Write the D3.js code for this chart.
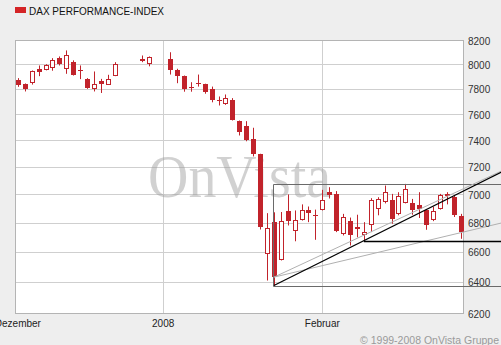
<!DOCTYPE html>
<html><head><meta charset="utf-8">
<script src="https://cdn.jsdelivr.net/npm/d3@7"></script>
<style>html,body{margin:0;padding:0;background:#eeeeee;}svg{display:block;}</style>
</head><body>
<svg id="c" width="501" height="345"></svg>
<script>
// ---- data ----
const seriesName = "DAX PERFORMANCE-INDEX";
const dates = ["2007-12-03","2007-12-04","2007-12-05","2007-12-06","2007-12-07",
"2007-12-10","2007-12-11","2007-12-12","2007-12-13","2007-12-14",
"2007-12-17","2007-12-18","2007-12-19","2007-12-20","2007-12-21",
"2007-12-27","2007-12-28",
"2008-01-02","2008-01-03","2008-01-04",
"2008-01-07","2008-01-08","2008-01-09","2008-01-10","2008-01-11",
"2008-01-14","2008-01-15","2008-01-16","2008-01-17","2008-01-18",
"2008-01-21","2008-01-22","2008-01-23","2008-01-24","2008-01-25",
"2008-01-28","2008-01-29","2008-01-30","2008-01-31","2008-02-01",
"2008-02-04","2008-02-05","2008-02-06","2008-02-07","2008-02-08",
"2008-02-11","2008-02-12","2008-02-13","2008-02-14","2008-02-15",
"2008-02-18","2008-02-19","2008-02-20","2008-02-21","2008-02-22",
"2008-02-25","2008-02-26","2008-02-27","2008-02-28","2008-02-29"];
const open  = [7873,7839,7849,7966,7960, 7971,8053,7966,8021,7955, 7884,7804,7866,7837,7911, 8040,8007,
  8047,7953,7911, 7822,7847,7839,7800,7716, 7685,7717,7550,7509,7413, 7297,6590,6808,6550,6883,
  6745,6826,6896,6855,6895, 7020,7008,6727,6819,6777, 6722,6791,6902,6953,6965, 6866,6946,6940,6926,6896,
  6824,6902,7008,6984,6851];
const high  = [7890,7847,7952,7993,8003, 8053,8067,8117,8035,7993, 7890,7944,7884,7917,8020, 8075,8067,
  8102,7966,7911, 7857,7919,7845,7822,7743, 7759,7730,7555,7550,7499, 7302,6871,6877,6879,7004,
  6890,6933,6918,6896,7037, 7056,7028,6866,6840,6860, 6808,6977,6984,7068,7008, 7020,7080,6972,7020,6899,
  6917,7008,7020,6993,6866];
const low   = [7820,7783,7838,7906,7953, 7950,7993,7925,7911,7882, 7804,7783,7771,7837,7906, 8020,7986,
  7919,7849,7781, 7781,7822,7765,7697,7672, 7677,7555,7440,7396,7282, 6757,6413,6380,6546,6785,
  6676,6819,6808,6686,6890, 6975,6739,6716,6647,6703, 6680,6739,6856,6940,6797, 6856,6940,6860,6837,6755,
  6815,6896,6933,6844,6693];
const close = [7834,7804,7946,7939,7993, 8035,8007,8075,7919,7951, 7812,7845,7839,7879,8007, 8045,8062,
  7953,7911,7800, 7817,7843,7781,7714,7712, 7733,7560,7465,7407,7302, 6777,6769,6435,6819,6815,
  6824,6896,6871,6851,6965, 7000,6750,6847,6716,6760, 6743,6965,6972,7025,6831, 6993,7040,6896,6903,6791,
  6889,7000,6996,6856,6743];

const yTicks = [6200,6400,6600,6800,7000,7200,7400,7600,7800,8000,8200];
const xTickDates = ["2007-12-03","2008-01-01","2008-02-01"];
const xTickLabels = ["Dezember","2008","Februar"];

// annotations (drawn from data anchors)
const boxStart = "2008-01-23", boxHigh = 7080, boxLow = 6380;
const trendA = ["2008-01-23", 6380], trendB = ["2008-02-11", 6680];
const supportStart = "2008-02-11", supportLevel = 6680;
const fanSteepA = ["2008-01-23", 6435], fanSteepB = ["2008-02-29", 7036];
const fanFlatA  = ["2008-01-23", 6435], fanFlatB  = ["2008-02-29", 6735];

// ---- helpers ----
const parse = d3.utcParse("%Y-%m-%d");
const base = Date.UTC(2008,0,1);
function wd(s){
  const t = parse(s);
  const isWd = d => d.getUTCDay()%6!==0;
  if (+t >= base) return d3.utcDay.range(new Date(base), t).filter(isWd).length;
  return -d3.utcDay.range(t, new Date(base)).filter(isWd).length;
}

const W = 501, H = 345;
const L = 15.5, R = 463.5, T = 40.5, B = 313.5;
const x = d3.scaleLinear().domain([-21.34, 43.4]).range([L, R]);
const y = d3.scaleLog().domain([6200, 8200]).range([B, T]);
const svg = d3.select("#c");
const red = "#c1232b";
const px = v => Math.round(v) + 0.5;

// plot bg
svg.append("rect").attr("x",L).attr("y",T).attr("width",R-L).attr("height",B-T).attr("fill","#fff");

// grid
svg.append("g").selectAll("line").data(yTicks.slice(1,-1)).join("line")
  .attr("x1",L).attr("x2",R).attr("y1",d=>px(y(d)-0.5)).attr("y2",d=>px(y(d)-0.5))
  .attr("stroke","#cfcfcf").attr("stroke-width",1);
svg.append("g").selectAll("line").data(xTickDates.slice(1)).join("line")
  .attr("x1",d=>px(x(wd(d))-0.5)).attr("x2",d=>px(x(wd(d))-0.5)).attr("y1",T).attr("y2",B)
  .attr("stroke","#cfcfcf");

// watermark
svg.append("text").attr("x",148).attr("y",197).text("OnVista")
  .attr("font-family","Liberation Serif, Times New Roman, serif").attr("font-size",62)
  .attr("textLength",183).attr("lengthAdjust","spacingAndGlyphs")
  .attr("fill","#9a9a9a").attr("fill-opacity",0.45);

// border
svg.append("rect").attr("x",L).attr("y",T).attr("width",R-L).attr("height",B-T)
  .attr("fill","none").attr("stroke","#b4b4b4");

// candles
const candles = dates.map((d,i)=>({d, o:open[i], h:high[i], l:low[i], c:close[i]}));
const g = svg.append("g");
candles.forEach(k=>{
  const cx = Math.round(x(wd(k.d)));
  g.append("line").attr("x1",cx+0.5).attr("x2",cx+0.5).attr("y1",y(k.h)).attr("y2",y(k.l))
    .attr("stroke",red).attr("stroke-width",1);
  const top = Math.round(y(Math.max(k.o,k.c))), bot = Math.round(y(Math.min(k.o,k.c)));
  const hgt = Math.max(1, bot-top);
  if (k.c >= k.o) {
    g.append("rect").attr("x",cx-1.5).attr("y",top+0.5).attr("width",4).attr("height",Math.max(1,hgt-1))
      .attr("fill","#fff").attr("stroke",red);
  } else {
    g.append("rect").attr("x",cx-2).attr("y",top).attr("width",5).attr("height",hgt).attr("fill",red);
  }
});

// annotations
const ann = svg.append("g");
function extLine(a,b,color,w){
  const x0 = x(wd(a[0])), y0 = y(a[1]), x1 = x(wd(b[0])), y1 = y(b[1]);
  const s = (y1-y0)/(x1-x0);
  ann.append("line").attr("x1",x0).attr("y1",y0).attr("x2",W).attr("y2",y0+s*(W-x0))
    .attr("stroke",color).attr("stroke-width",w);
}
const bx = px(x(wd(boxStart))-0.5);
ann.append("line").attr("x1",bx).attr("x2",W).attr("y1",px(y(boxHigh))).attr("y2",px(y(boxHigh))).attr("stroke","#6a6a6a");
ann.append("line").attr("x1",bx).attr("x2",W).attr("y1",px(y(boxLow))).attr("y2",px(y(boxLow))).attr("stroke","#6a6a6a");
ann.append("line").attr("x1",bx).attr("x2",bx).attr("y1",px(y(boxHigh))).attr("y2",px(y(boxLow))).attr("stroke","#6a6a6a");
extLine(fanSteepA, fanSteepB, "#b0b0b0", 1);
extLine(fanFlatA, fanFlatB, "#b0b0b0", 1);
extLine(trendA, trendB, "#000", 1.2);
ann.append("line").attr("x1",x(wd(supportStart))).attr("x2",W)
  .attr("y1",px(y(supportLevel))).attr("y2",px(y(supportLevel))).attr("stroke","#000").attr("stroke-width",1.3);

// y labels
svg.append("g").selectAll("text").data(yTicks).join("text")
  .attr("x",468).attr("y",d=>y(d)+4).text(d=>d)
  .attr("font-family","Liberation Sans, Arial, sans-serif").attr("font-size",10).attr("fill","#333");

// x labels
svg.append("g").selectAll("text").data(xTickDates).join("text")
  .attr("x",(d)=>x(wd(d))).attr("y",326.5).attr("text-anchor","middle").text((d,i)=>xTickLabels[i])
  .attr("font-family","Liberation Sans, Arial, sans-serif").attr("font-size",10).attr("fill","#222");

// legend
svg.append("rect").attr("x",15).attr("y",7).attr("width",11).attr("height",6).attr("fill","#d42426");
svg.append("text").attr("x",29).attr("y",14.5).text(seriesName)
  .attr("font-family","Liberation Sans, Arial, sans-serif").attr("font-size",10).attr("fill","#111");

// copyright
svg.append("text").attr("x",499).attr("y",344).attr("text-anchor","end").text("© 1999-2008 OnVista Gruppe")
  .attr("font-family","Liberation Sans, Arial, sans-serif").attr("font-size",10.5).attr("fill","#9a9a9a");
</script>
</body></html>
